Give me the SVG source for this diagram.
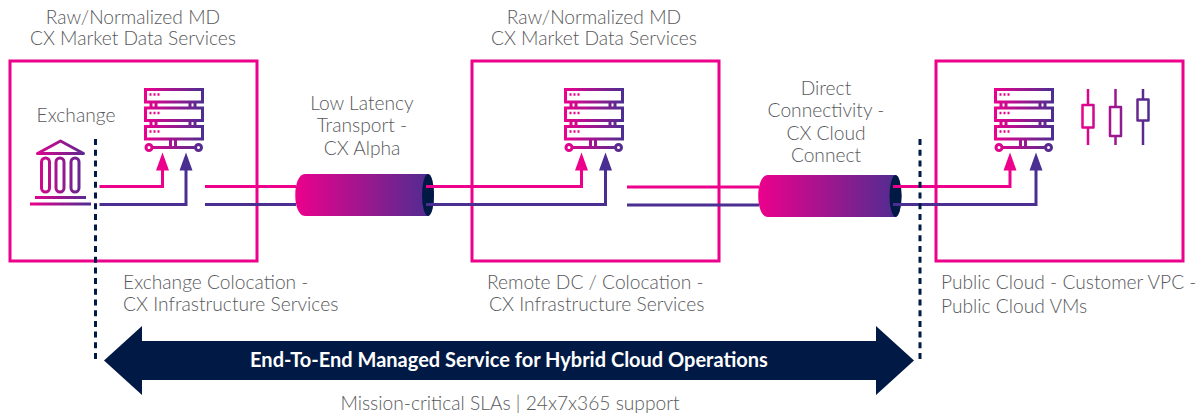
<svg xmlns="http://www.w3.org/2000/svg" width="1202" height="415" viewBox="0 0 1202 415">
<style>
.t{font-family:Lato,"Liberation Sans",sans-serif;font-size:19.2px;font-weight:300;fill:#58595b;text-anchor:middle}
.l{text-anchor:start}
.box{fill:none;stroke:#ec008c;stroke-width:3}
.p{fill:none;stroke:#ec008c;stroke-width:3}
.v{fill:none;stroke:#4b2e91;stroke-width:3}
.dash{fill:none;stroke:#001a45;stroke-width:3;stroke-dasharray:6 4.700}
.i{fill:none;stroke:url(#ig);stroke-width:3}
</style>
<defs>
<linearGradient id="ig" gradientUnits="userSpaceOnUse" x1="0" y1="0" x2="60" y2="0"><stop offset="0" stop-color="#ec008c"/><stop offset="1" stop-color="#4b2e91"/></linearGradient>
<linearGradient id="cg" x1="0" y1="0" x2="1" y2="0"><stop offset="0" stop-color="#ec008c"/><stop offset="1" stop-color="#4b2e91"/></linearGradient>
<linearGradient id="eg" gradientUnits="userSpaceOnUse" x1="30" y1="0" x2="91" y2="0"><stop offset="0" stop-color="#ec008c"/><stop offset="1" stop-color="#4b2e91"/></linearGradient>
<linearGradient id="kg" gradientUnits="userSpaceOnUse" x1="1081" y1="0" x2="1150" y2="0"><stop offset="0" stop-color="#ec008c"/><stop offset="1" stop-color="#4b2e91"/></linearGradient>
<g id="server">
<rect class="i" x="1.500" y="1.500" width="57" height="12.500"/>
<rect class="i" x="1.500" y="20" width="57" height="12.500"/>
<rect class="i" x="1.500" y="38.500" width="57" height="12.500"/>
<path class="i" d="M7 14v6M12 14v6M46 14v6M51 14v6M7 32.500v6M12 32.500v6M46 32.500v6M51 32.500v6M26.500 51v8M31.500 51v8M8 59.500H51"/>
<circle class="i" cx="5" cy="59.500" r="3"/><circle class="i" cx="54.500" cy="59.500" r="3"/>
<path d="M5.500 6.500h2M9.500 6.500h2M13.500 6.500h2M5.500 25h2M9.500 25h2M13.500 25h2M5.500 43.500h2M9.500 43.500h2M13.500 43.500h2" fill="none" stroke="#ec008c" stroke-width="2.500"/>
</g>
<polygon id="ap" points="0,-18 6.500,0 -6.500,0" fill="#ec008c"/>
<polygon id="av" points="0,-18 6.500,0 -6.500,0" fill="#4b2e91"/>
</defs>

<g id="box-exchange"><rect class="box" x="10" y="61" width="247" height="200"/></g>
<g id="box-remote"><rect class="box" x="472" y="61" width="247" height="200"/></g>
<g id="box-cloud"><rect class="box" x="936" y="61" width="247" height="200"/></g>

<g id="tube-alpha">
<path d="M305 174H428A6 21 0 0 1 428 216H305C292 216 292 174 305 174Z" fill="url(#cg)"/>
<ellipse cx="428" cy="195" rx="6" ry="21" fill="#001a45"/>
</g>
<g id="tube-connect">
<path d="M768 175H895.500A6 21 0 0 1 895.500 217H768C755 217 755 175 768 175Z" fill="url(#cg)"/>
<ellipse cx="895.500" cy="196" rx="6" ry="21" fill="#001a45"/>
</g>

<g id="connectors">
<path class="p" d="M99.500 186.500H162.500V170M205 186.500H296M426 186.500H581.500V170M627 187H759M893 186.500H1010V170"/>
<path class="v" d="M99.500 204.500H186V170M205 204.500H296M426 204.500H605.500V170M627 205H759M893 204.500H1036V170"/>
<use href="#ap" x="162.500" y="170.500"/><use href="#av" x="186" y="170.500"/>
<use href="#ap" x="581.500" y="170.500"/><use href="#av" x="605.500" y="170.500"/>
<use href="#ap" x="1010" y="170.500"/><use href="#av" x="1036" y="170.500"/>
<path class="dash" d="M95.500 139V360M920 139V360"/>
</g>

<g id="server-1"><use href="#server" x="144" y="88"/></g>
<g id="server-2"><use href="#server" x="564" y="88"/></g>
<g id="server-3"><use href="#server" x="994" y="88"/></g>

<g id="exchange-icon" fill="none" stroke="url(#eg)" stroke-width="3">
<path stroke-linejoin="round" d="M37.500 153.500L60.500 141L83.500 153.500Z"/>
<rect x="41.500" y="158" width="8" height="34" rx="4"/>
<rect x="56" y="158" width="8" height="34" rx="4"/>
<rect x="71" y="158" width="8" height="34" rx="4"/>
<path d="M35 197.500H86M30 204H91"/>
</g>

<g id="candles" fill="#fff" stroke="url(#kg)" stroke-width="2.500" stroke-linejoin="round">
<path d="M1088 89V145M1115.500 89V145M1143 89V145"/>
<rect x="1082.500" y="105" width="11" height="22.500" fill="#fff"/>
<rect x="1110" y="107" width="11" height="29" fill="#fff"/>
<rect x="1137.500" y="99.500" width="11" height="21" fill="#fff"/>
</g>

<g id="service-arrow">
<polygon points="104,360.500 142,326 142,341 876,341 876,326 914,360.500 876,395 876,380 142,380 142,395" fill="#001a45"/>
<text x="509" y="367" font-family="Lato,'Liberation Sans',sans-serif" font-size="20" font-weight="700" fill="#fff" text-anchor="middle">End-To-End Managed Service for Hybrid Cloud Operations</text>
</g>

<g id="labels">
<text class="t" x="133" y="24">Raw/Normalized MD</text>
<text class="t" x="133" y="45">CX Market Data Services</text>
<text class="t" x="594" y="24">Raw/Normalized MD</text>
<text class="t" x="594" y="45">CX Market Data Services</text>
<text class="t" x="76" y="122">Exchange</text>
<text class="t" x="362" y="110">Low Latency</text>
<text class="t" x="362" y="132">Transport -</text>
<text class="t" x="362" y="155">CX Alpha</text>
<text class="t" x="826" y="95">Direct</text>
<text class="t" x="826" y="117">Connectivity -</text>
<text class="t" x="826" y="140">CX Cloud</text>
<text class="t" x="826" y="162">Connect</text>
<text class="t l" x="123" y="288.500">Exchange Colocation -</text>
<text class="t l" x="123" y="310.500">CX Infrastructure Services</text>
<text class="t l" x="487" y="288.500">Remote DC / Colocation -</text>
<text class="t l" x="489" y="310.500">CX Infrastructure Services</text>
<text class="t l" x="941" y="288.500">Public Cloud - Customer VPC -</text>
<text class="t l" x="941" y="312.500">Public Cloud VMs</text>
<text class="t" x="510" y="409.500">Mission-critical SLAs | 24x7x365 support</text>
</g>
</svg>
